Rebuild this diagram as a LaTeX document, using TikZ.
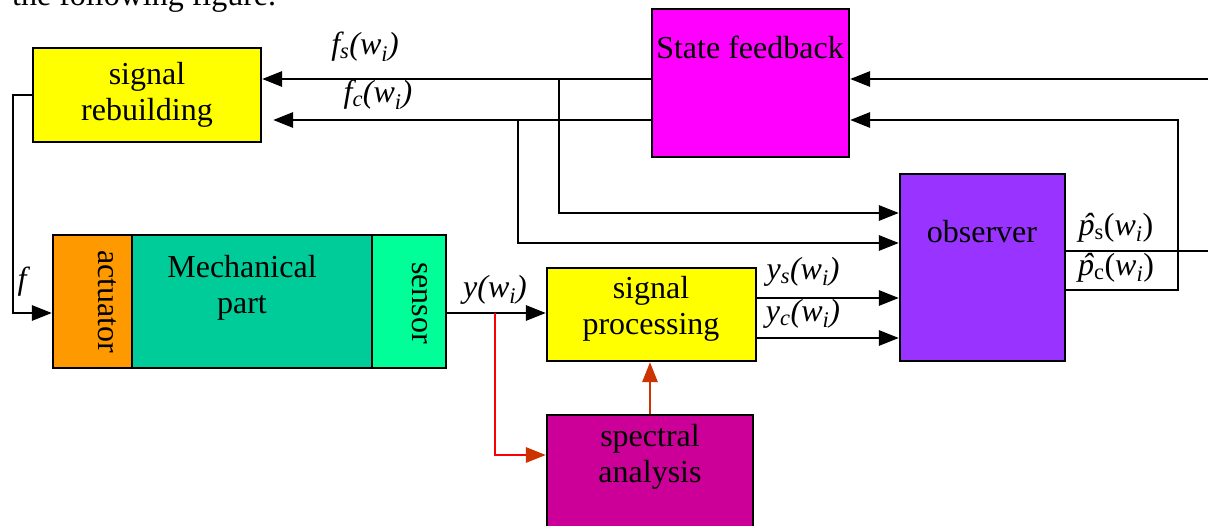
\documentclass[tikz,border=0pt]{standalone}
\usepackage{fontspec}
\setmainfont{Liberation Serif}
\usetikzlibrary{arrows.meta}

\definecolor{rebuildyellow}{HTML}{FFFF00}
\definecolor{feedbackpink}{HTML}{FF00FF}
\definecolor{observerviolet}{HTML}{9933FF}
\definecolor{actuatororange}{HTML}{FF9900}
\definecolor{mechgreen}{HTML}{00CC99}
\definecolor{sensorgreen}{HTML}{00FF99}
\definecolor{spectralpurple}{HTML}{CC0099}
\definecolor{spectralred}{HTML}{CC3300}

\newcommand\figfont{\fontsize{32}{36}\selectfont}
\newcommand\phat{\ooalign{\textit{p}\cr\hidewidth\kern0.12em\textit{ˆ}\hidewidth\cr}}

\tikzset{
  every node/.style={font=\figfont},
  block/.style={draw, line width=2.2pt, inner sep=0pt, align=center},
  txt/.style={inner sep=0pt, align=center},
  lbl/.style={inner sep=0pt, font=\figfont\itshape},
  wire/.style={line width=2.9pt, -{Triangle[length=20pt,width=15pt]}},
  redwire/.style={line width=2.9pt, draw=red, -{Triangle[length=20pt,width=15pt,color=spectralred]}},
}

\begin{document}
\begin{tikzpicture}[x=1pt,y=-1pt]
\clip (0,0) rectangle (1208,525);

\node (head) [anchor=base west, inner sep=0pt] at (12,5) {the following figure.};

% blocks
\node (rebuild) [block, fill=rebuildyellow, minimum width=228pt, minimum height=94pt] at (147,95) {signal\\rebuilding};
\node (sfb) [block, fill=feedbackpink, minimum width=197pt, minimum height=148pt] at (750.5,83) {};
\node (sfbtxt) [txt] at (750,47) {State feedback};
\node (obs) [block, fill=observerviolet, minimum width=165pt, minimum height=187pt] at (982.5,267.5) {};
\node (obstxt) [txt] at (982,232) {observer};

\node (act) [block, fill=actuatororange, minimum width=79pt, minimum height=133pt] at (92.5,301.5) {};
\node (mech) [block, fill=mechgreen, minimum width=240pt, minimum height=133pt] at (252,301.5) {};
\node (sens) [block, fill=sensorgreen, minimum width=74pt, minimum height=133pt] at (409,301.5) {};
\node (acttxt) [txt, rotate=-90] at (107,302) {actuator};
\node (mechtxt) [txt] at (242,288) {Mechanical\\part};
\node (senstxt) [txt, rotate=-90] at (420,303) {sensor};

\node (proc) [block, fill=rebuildyellow, minimum width=209pt, minimum height=93pt] at (651.5,314.5) {};
\node (proctxt) [txt] at (651,309) {signal\\processing};
\node (spec) [block, fill=spectralpurple, minimum width=206pt, minimum height=125pt] at (650,477.5) {};
\node (spectxt) [txt] at (650,457) {spectral\\analysis};

% levels of the wires
\coordinate (lvS) at (0,79);
\coordinate (lvC) at (0,120);
\coordinate (brS) at (559,79);
\coordinate (brC) at (518,120);
\coordinate (topR) at (1208,79);
\coordinate (retC) at (1178,120);
\coordinate (outS) at (1208,251);
\coordinate (fl) at (13,313);
\coordinate (yl) at (0,313);
\coordinate (tap) at (495,313);

% feedback to rebuilding and observer
\draw[wire] (sfb.west |- lvS) -- (rebuild.east |- lvS);
\draw[wire] (sfb.west |- lvC) -- ([xshift=11pt]rebuild.east |- lvC);
\draw[wire] (brS) |- (obs.west |- 0,213);
\draw[wire] (brC) |- (obs.west |- 0,243);
\draw[wire] (topR) -- (sfb.east |- topR);
\draw[wire] (obs.east |- 0,290) -| (retC) -- (sfb.east |- retC);
\draw[line width=2.4pt] (obs.east |- outS) -- (outS);

% plant loop
\draw[wire] (rebuild.west) -| (fl) -- (act.west |- fl);
\draw[wire] (sens.east |- yl) -- (proc.west |- yl);
\draw[redwire] (tap) |- (spec.west |- 0,455);
\draw[line width=2.9pt, draw=spectralred, -{Triangle[length=20pt,width=15pt]}] (spec.north) -- (spec.north |- proc.south);
\draw[wire] (proc.east |- 0,298) -- (obs.west |- 0,298);
\draw[wire] (proc.east |- 0,338) -- (obs.west |- 0,338);

% labels
\node (lfs) [lbl] at (365,47) {f\textsubscript{s}(w\textsubscript{i})};
\node (lfc) [lbl] at (378,95) {f\textsubscript{c}(w\textsubscript{i})};
\node (lf) [lbl] at (22,282) {f};
\node (ly) [lbl] at (495,290) {y(w\textsubscript{i})};
\node (lys) [lbl] at (803,272) {y\textsubscript{s}(w\textsubscript{i})};
\node (lyc) [lbl] at (803,314) {y\textsubscript{c}(w\textsubscript{i})};
\node (lps) [txt] at (1116,228) {\phat\textsubscript{s}(\textit{w}\textsubscript{\textit{i}})};
\node (lpc) [txt] at (1116,268) {\phat\textsubscript{c}(\textit{w}\textsubscript{\textit{i}})};
\end{tikzpicture}
\end{document}
